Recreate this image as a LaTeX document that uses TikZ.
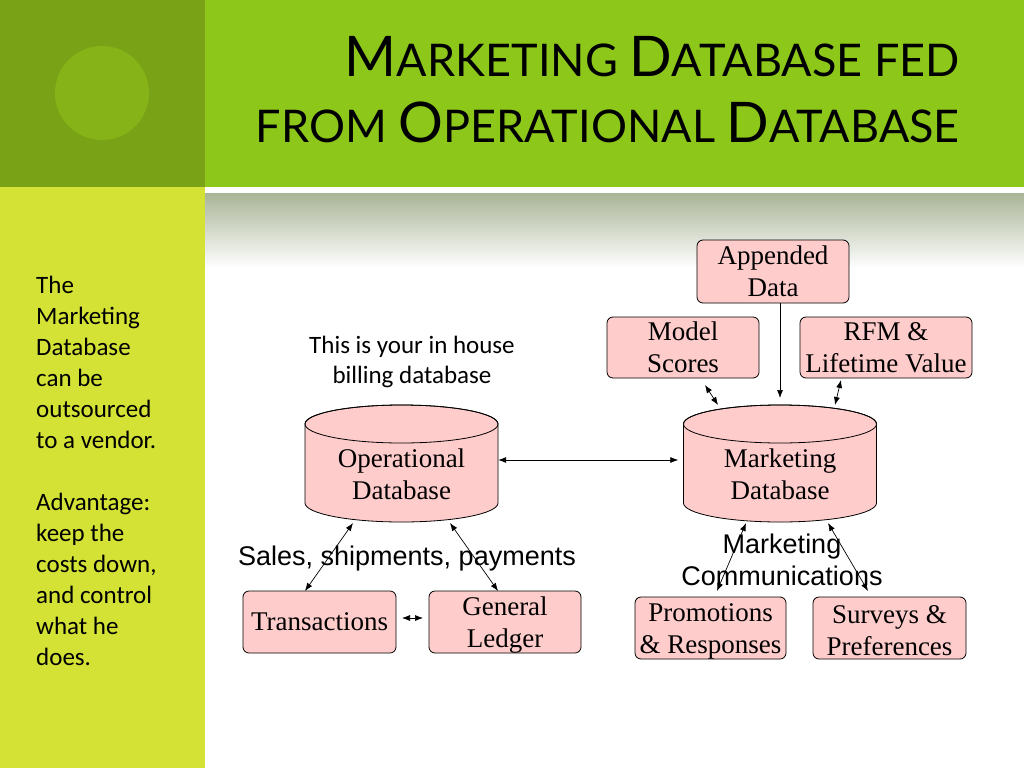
\documentclass[tikz,border=0pt]{standalone}
\usepackage{fontspec}
\setmainfont{Liberation Serif}
\newfontfamily\titlefont{Lato}
\newfontfamily\bodyfont{Carlito}
\newfontfamily\arialfont{Liberation Sans}
\usetikzlibrary{arrows.meta}
\definecolor{darkgreen}{HTML}{7AA216}
\definecolor{circgreen}{HTML}{86B318}
\definecolor{titlegreen}{HTML}{8DC71A}
\definecolor{limepanel}{HTML}{D4E236}
\definecolor{graytop}{HTML}{A9B497}
\definecolor{boxpink}{HTML}{FFCCCC}
\newcommand\TBig[1]{{\fontsize{56}{56}\selectfont #1}}
\newcommand\TSmall[1]{{\fontsize{45}{45}\selectfont #1}}
\newcommand\DrawCyl[1]{%
  \filldraw[fill=boxpink, draw=black, line width=0.8pt]
    (#1-96.5,424) -- (#1-96.5,503)
    arc[start angle=180, end angle=360, x radius=96.5pt, y radius=19pt]
    -- (#1+96.5,424)
    arc[start angle=0, end angle=180, x radius=96.5pt, y radius=19pt] -- cycle;
  \draw[line width=0.8pt] (#1,424) ellipse[x radius=96.5pt, y radius=19pt];}
\begin{document}
\begin{tikzpicture}[x=1pt,y=-1pt,
  pinkbox/.style={draw=black, fill=boxpink, rounded corners=6pt, line width=0.8pt,
    inner sep=0pt, align=center, font=\fontsize{27}{32}\selectfont},
  dbtext/.style={inner sep=0pt, align=center, minimum width=193pt,
    font=\fontsize{27}{32}\selectfont},
  sidetext/.style={inner sep=0pt, align=left, font=\bodyfont\fontsize{25}{31}\selectfont},
  notetext/.style={inner sep=0pt, align=center, font=\bodyfont\fontsize{25}{30}\selectfont},
  arialtext/.style={inner sep=0pt, align=center, font=\arialfont\fontsize{27}{32}\selectfont},
  titletext/.style={inner sep=0pt, font=\titlefont},
  arr/.style={-{Latex[length=8pt,width=6pt]}, line width=0.7pt},
  biarr/.style={{Latex[length=8pt,width=6pt]}-{Latex[length=8pt,width=6pt]}, line width=0.7pt}]
\useasboundingbox (0,0) rectangle (1024,768);
\fill[white] (0,0) rectangle (1024,768);
% background panels
\fill[titlegreen] (205,0) rectangle (1024,187);
\fill[darkgreen] (0,0) rectangle (205,187);
\fill[circgreen] (102,93) circle[radius=47pt];
\fill[limepanel] (0,187) rectangle (205,768);
\shade[top color=graytop, bottom color=white] (205,193) rectangle (1024,268);
% title
\node[titletext, anchor=base east] (t1) at (960,76)
  {\TBig{M}\TSmall{ARKETING }\TBig{D}\TSmall{ATABASE FED}};
\node[titletext, anchor=base east] (t2) at (960,142)
  {\TSmall{FROM }\TBig{O}\TSmall{PERATIONAL }\TBig{D}\TSmall{ATABASE}};
% side text
\node[sidetext, anchor=base west] (side) at (36,665)
  {The\\Marketing\\Database\\can be\\outsourced\\to a vendor.\\[31pt]Advantage:\\keep the\\costs down,\\and control\\what he\\does.};
% note
\node[notetext, anchor=base] (note) at (412,383) {This is your in house\\billing database};
% cylinders
\DrawCyl{401.5}
\DrawCyl{780}
\node[dbtext] (op) at (401.5,474) {Operational\\Database};
\node[dbtext] (mk) at (780,474) {Marketing\\Database};
% boxes
\node[pinkbox, minimum width=152pt, minimum height=63pt] (app) at (773,271.5) {Appended\\Data};
\node[pinkbox, minimum width=152pt, minimum height=61pt] (model) at (683,347.5) {Model\\Scores};
\node[pinkbox, minimum width=172pt, minimum height=61pt] (rfm) at (886,347.5) {RFM \&\\Lifetime Value};
\node[pinkbox, minimum width=153pt, minimum height=62pt] (trans) at (319.5,622) {Transactions};
\node[pinkbox, minimum width=152pt, minimum height=62pt] (gl) at (505,622) {\rule{0pt}{24pt}General\\Ledger};
\node[pinkbox, minimum width=151pt, minimum height=62pt] (promo) at (710.5,628) {\rule{0pt}{24pt}Promotions\\\& Responses};
\node[pinkbox, minimum width=153pt, minimum height=62pt] (surv) at (889.5,628) {\rule{0pt}{24pt}Surveys \&\\Preferences};
% labels
\node[arialtext, anchor=base] (sales) at (407,565) {Sales, shipments, payments};
\node[arialtext, anchor=base] (mcomm) at (782,585) {Marketing\\Communications};
% connector end points
\coordinate (opL) at (353,523);
\coordinate (opR) at (450,523);
\coordinate (trT) at (305,591);
\coordinate (glT) at (498,591);
\coordinate (trR) at (402,618);
\coordinate (glL) at (423,618);
\coordinate (mkL) at (746,523);
\coordinate (mkR) at (828,523);
\coordinate (prT) at (717,591);
\coordinate (svT) at (868,591);
\coordinate (mkTop) at (780,398);
\coordinate (moB) at (705,385);
\coordinate (mkTL) at (718,405);
\coordinate (rfB) at (841,380);
\coordinate (mkTR) at (835,405);
% connectors
\draw[biarr, shorten >=5pt] ([yshift=14pt]op.east) -- ([yshift=14pt]mk.west);
\draw[arr] (app.south -| mkTop) -- (mkTop);
\draw[biarr] (moB) -- (mkTL);
\draw[biarr] (rfB) -- (mkTR);
\draw[biarr] (opL) -- (trT);
\draw[biarr] (opR) -- (glT);
\draw[biarr] (trR) -- (glL);
\draw[biarr] (mkL) -- (prT);
\draw[biarr] (mkR) -- (svT);
\end{tikzpicture}
\end{document}
